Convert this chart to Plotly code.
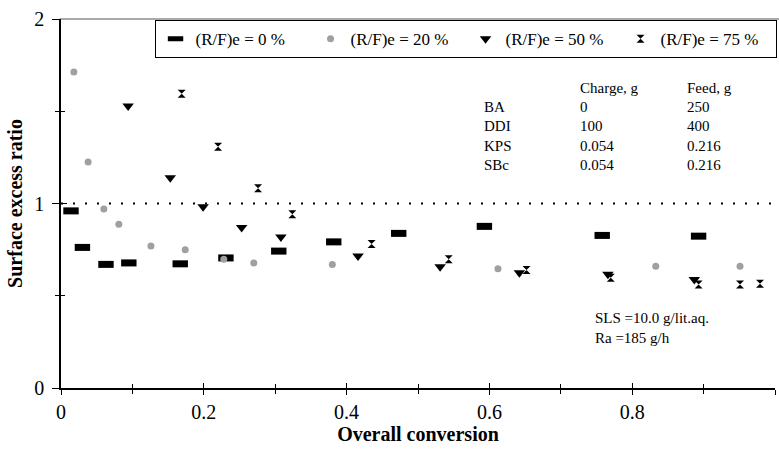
import plotly.graph_objects as go

# ---- data ----
conv_0 = [0.014, 0.030, 0.063, 0.095, 0.167, 0.231, 0.305, 0.382, 0.473, 0.593, 0.758, 0.893]
ratio_0 = [0.960, 0.762, 0.670, 0.678, 0.673, 0.705, 0.742, 0.792, 0.838, 0.876, 0.827, 0.823]

conv_20 = [0.018, 0.038, 0.060, 0.081, 0.126, 0.174, 0.228, 0.270, 0.380, 0.612, 0.833, 0.951]
ratio_20 = [1.713, 1.225, 0.970, 0.888, 0.770, 0.749, 0.698, 0.678, 0.669, 0.646, 0.660, 0.660]

conv_50 = [0.094, 0.153, 0.199, 0.253, 0.308, 0.416, 0.531, 0.642, 0.766, 0.887]
ratio_50 = [1.528, 1.139, 0.982, 0.870, 0.819, 0.715, 0.657, 0.624, 0.617, 0.588]

conv_75 = [0.169, 0.220, 0.276, 0.324, 0.435, 0.543, 0.652, 0.770, 0.893, 0.951, 0.979]
ratio_75 = [1.595, 1.308, 1.082, 0.942, 0.780, 0.698, 0.639, 0.597, 0.561, 0.561, 0.565]

series_names = ["(R/F)e = 0 %", "(R/F)e = 20 %", "(R/F)e = 50 %", "(R/F)e = 75 %"]

x_tickvals = [0, 0.2, 0.4, 0.6, 0.8, 1.0]
x_ticktext = ["0", "0.2", "0.4", "0.6", "0.8", "1"]
y_tickvals = [0, 1, 2]
y_ticktext = ["0", "1", "2"]

table_rows = ["BA", "DDI", "KPS", "SBc"]
table_charge = ["0", "100", "0.054", "0.054"]
table_feed = ["250", "400", "0.216", "0.216"]
note_lines = ["SLS =10.0 g/lit.aq.", "Ra =185 g/h"]

SERIF = "Liberation Serif"

fig = go.Figure()
fig.add_trace(go.Scatter(x=conv_0, y=ratio_0, mode="markers", name=series_names[0],
                         marker=dict(symbol="line-ew", size=11, color="black",
                                     line=dict(width=7, color="black"))))
fig.add_trace(go.Scatter(x=conv_20, y=ratio_20, mode="markers", name=series_names[1],
                         marker=dict(symbol="circle", size=7, color="#a0a0a0",
                                     line=dict(width=0))))
fig.add_trace(go.Scatter(x=conv_50, y=ratio_50, mode="markers", name=series_names[2],
                         marker=dict(symbol="triangle-down", size=10, color="black",
                                     line=dict(width=0))))
fig.add_trace(go.Scatter(x=conv_75, y=ratio_75, mode="markers", name=series_names[3],
                         marker=dict(symbol="hourglass", size=8, color="black",
                                     line=dict(width=0))))
# empty helper trace so the inner-tick overlay axes are drawn
fig.add_trace(go.Scatter(x=[], y=[], xaxis="x2", yaxis="y2", showlegend=False,
                         hoverinfo="skip"))

# dotted reference line at ratio = 1
fig.add_shape(type="line", xref="x", yref="y", x0=0, x1=1, y0=1, y1=1,
              line=dict(color="black", width=2, dash="2px,10px"), layer="below")
# top frame line
fig.add_shape(type="line", xref="paper", yref="paper", x0=-0.002, x1=1.01, y0=1, y1=1,
              line=dict(color="#555555", width=1), layer="below")

# table annotations
row_y = [0.761, 0.710, 0.656, 0.604]
fig.add_annotation(x=0.724, y=0.813, xref="paper", yref="paper", text="Charge, g",
                   showarrow=False, xanchor="left", yanchor="middle")
fig.add_annotation(x=0.874, y=0.813, xref="paper", yref="paper", text="Feed, g",
                   showarrow=False, xanchor="left", yanchor="middle")
for lab, ch, fd, yy in zip(table_rows, table_charge, table_feed, row_y):
    fig.add_annotation(x=0.589, y=yy, xref="paper", yref="paper", text=lab,
                       showarrow=False, xanchor="left", yanchor="middle")
    fig.add_annotation(x=0.724, y=yy, xref="paper", yref="paper", text=ch,
                       showarrow=False, xanchor="left", yanchor="middle")
    fig.add_annotation(x=0.874, y=yy, xref="paper", yref="paper", text=fd,
                       showarrow=False, xanchor="left", yanchor="middle")
fig.add_annotation(x=0.745, y=0.163, xref="paper", yref="paper",
                   text="<br>".join(note_lines), showarrow=False,
                   xanchor="left", yanchor="middle", align="left")

axis_font = dict(family=SERIF, size=20, color="black")
title_font = dict(family=SERIF, size=20, color="black", weight="bold")

fig.update_layout(
    width=779, height=449,
    margin=dict(l=61, r=4, t=19, b=61, autoexpand=False),
    paper_bgcolor="white", plot_bgcolor="white",
    font=dict(family=SERIF, size=15, color="black"),
    showlegend=True,
    legend=dict(orientation="h", x=0.131, xanchor="left", y=0.997, yanchor="top",
                bgcolor="white", bordercolor="black", borderwidth=1,
                font=dict(family=SERIF, size=17, color="black"),
                entrywidth=110, entrywidthmode="pixels"),
    xaxis=dict(range=[0, 1], tickvals=x_tickvals, ticktext=x_ticktext,
               ticks="outside", ticklen=5, tickwidth=1, tickcolor="black",
               minor=dict(dtick=0.1, ticks="outside", ticklen=4, tickcolor="black"),
               showline=True, linecolor="black", linewidth=1.5,
               showgrid=False, zeroline=False, tickfont=axis_font,
               title=dict(text="Overall conversion", font=title_font, standoff=3)),
    yaxis=dict(range=[0, 2], tickvals=y_tickvals, ticktext=y_ticktext,
               ticks="outside", ticklen=7, tickwidth=1, tickcolor="black",
               minor=dict(dtick=0.5, ticks="outside", ticklen=4, tickcolor="black"),
               showline=True, linecolor="black", linewidth=1.5,
               showgrid=False, zeroline=False, tickfont=axis_font,
               ticklabelstandoff=4,
               title=dict(text="Surface excess ratio", font=title_font, standoff=6)),
    xaxis2=dict(overlaying="x", anchor="y2", range=[0, 1], tickvals=x_tickvals,
                ticks="inside", ticklen=5, tickcolor="black", showticklabels=False,
                minor=dict(dtick=0.1, ticks="inside", ticklen=4, tickcolor="black"),
                showline=False, showgrid=False, zeroline=False),
    yaxis2=dict(overlaying="y", anchor="x2", range=[0, 2], tickvals=y_tickvals,
                ticks="inside", ticklen=6, tickcolor="black", showticklabels=False,
                minor=dict(dtick=0.5, ticks="inside", ticklen=4, tickcolor="black"),
                showline=False, showgrid=False, zeroline=False, side="left"),
)

fig.write_html("out.html")
